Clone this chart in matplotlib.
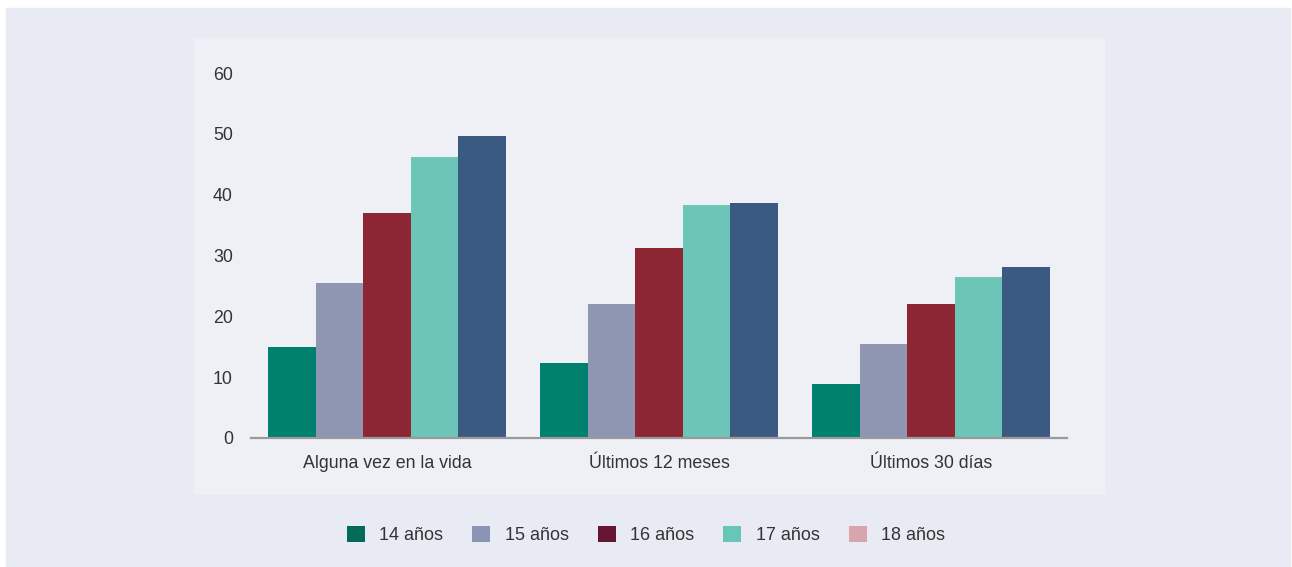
import numpy as np
import matplotlib.pyplot as plt
from matplotlib.patches import Patch, Rectangle

plt.rcParams['font.family'] = ['Liberation Sans', 'DejaVu Sans']

categorias = ['Alguna vez en la vida', 'Últimos 12 meses', 'Últimos 30 días']
edades = ['14 años', '15 años', '16 años', '17 años', '18 años']
valores = {
    '14 años': [15.0, 12.3, 8.9],
    '15 años': [25.5, 22.0, 15.5],
    '16 años': [37.0, 31.2, 22.0],
    '17 años': [46.2, 38.3, 26.5],
    '18 años': [49.7, 38.6, 28.1],
}
colores_barras = ['#00816e', '#8e96b2', '#8d2633', '#6bc6b8', '#3b5a82']
colores_leyenda = ['#056b59', '#8a94b5', '#651630', '#68c6b8', '#d9a5ad']

W, H = 1292, 567
fig = plt.figure(figsize=(W / 100, H / 100), dpi=100)
fig.patch.set_facecolor('white')

# fondo exterior e interior
fig.patches.append(Rectangle((6 / W, 1 - 566 / H), 1284 / W, 558 / H,
                             transform=fig.transFigure, color='#e8ebf3', zorder=-2))
fig.patches.append(Rectangle((194 / W, 1 - 494 / H), 910 / W, 456 / H,
                             transform=fig.transFigure, color='#eef0f5', zorder=-1))

ax = fig.add_axes([251 / W, 1 - 438 / H, 816 / W, 365 / H])
ax.set_facecolor('none')

x = np.arange(len(categorias))
ancho = 0.175
for i, edad in enumerate(edades):
    ax.bar(x + (i - 2) * ancho, valores[edad], width=ancho,
           color=colores_barras[i], edgecolor='none', zorder=2)

ax.set_xlim(-0.5, 2.5)
ax.set_ylim(0, 60)
ax.set_yticks(range(0, 61, 10))
ax.set_xticks(x)
ax.set_xticklabels(categorias)
for s in ['top', 'right', 'left']:
    ax.spines[s].set_visible(False)
ax.spines['bottom'].set_color('#9a9a9a')
ax.spines['bottom'].set_linewidth(1.6)
ax.spines['bottom'].set_zorder(3)
ax.tick_params(axis='both', length=0, labelsize=12.8, labelcolor='#333333')
ax.tick_params(axis='y', pad=13)
ax.tick_params(axis='x', pad=12)

handles = [Patch(facecolor=c, edgecolor='none') for c in colores_leyenda]
fig.legend(handles, edades, loc='center', bbox_to_anchor=(0.5, 1 - 535 / H),
           ncol=5, frameon=False, fontsize=13, handlelength=1.0, handleheight=1.0,
           handletextpad=0.8, columnspacing=1.6, labelcolor='#333333')

fig.savefig('out.png', dpi=100)
